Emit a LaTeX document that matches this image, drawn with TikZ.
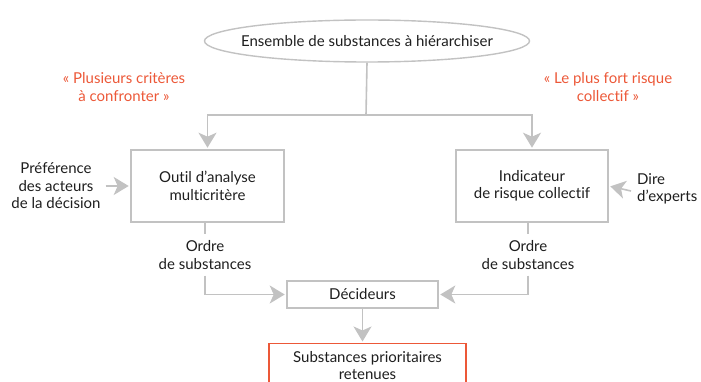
\documentclass[tikz,border=0pt]{standalone}
\usepackage{fontspec}
\setmainfont{Lato}[Ligatures=NoCommon]
\usetikzlibrary{shapes.geometric,arrows.meta}
\definecolor{lgray}{RGB}{194,194,194}
\definecolor{accent}{RGB}{236,88,56}
\definecolor{ink}{RGB}{30,30,30}
\begin{document}
\begin{tikzpicture}[x=1pt,y=-1pt,
  every node/.style={font=\fontsize{15}{17.5}\selectfont, text=ink},
  box/.style={draw=lgray, line width=1.6pt, align=center, inner sep=0pt},
  plain/.style={align=center, inner sep=0pt},
  redtxt/.style={align=center, inner sep=0pt, text=accent},
  conn/.style={draw=lgray, line width=1.6pt},
  arr/.style={conn, shorten >=1.5pt, -{Stealth[length=15pt,width=18pt,inset=4pt]}}]
\useasboundingbox (0,0) rectangle (701,382);
\node[ellipse, draw=lgray, line width=1.4pt, inner xsep=-11pt, inner ysep=0pt, minimum height=42pt] (ens) at (367,41) {Ensemble de substances à hiérarchiser};
\node[box, minimum width=153pt, minimum height=72pt] (outil) at (207.5,186) {Outil d’analyse\\multicritère};
\node[box, minimum width=152pt, minimum height=72pt] (indic) at (532,186) {Indicateur\\de risque collectif};
\node[redtxt] (lab1) at (124,87) {« Plusieurs critères\\à confronter »};
\node[redtxt] (lab2) at (608,87) {« Le plus fort risque\\collectif »};
\node[plain] (pref) at (56,186) {Préférence\\des acteurs\\de la décision};
\node[plain, align=left, anchor=west] (dire) at (637,189) {Dire\\d’experts};
\node[plain, inner ysep=6pt] (ord1) at (205,255) {Ordre\\de substances};
\node[plain, inner ysep=6pt] (ord2) at (528,255) {Ordre\\de substances};
\node[box, minimum width=151pt, minimum height=27pt] (dec) at (362.5,294.5) {Décideurs};
\node[draw=accent, line width=1.4pt, align=center, inner sep=0pt, minimum width=197pt, minimum height=44pt, anchor=north] (subs) at (367.5,343) {Substances prioritaires\\retenues};
\coordinate (j) at (366,115);
\coordinate (jl) at (outil.north |- j);
\coordinate (jr) at (indic.north |- j);
\draw[conn] (ens.south) -- (j);
\draw[arr] (j) -- (jl) -- (outil.north);
\draw[arr] (j) -- (jr) -- (indic.north);
\draw[arr] (pref.east) ++(5pt,0) coordinate (pe) (pe) -- (outil.west);
\draw[arr] (dire.west) ++(-6pt,-2pt) coordinate (de) (de) -- (indic.east);
\draw[conn] (outil.south -| ord1.north) -- (ord1.north);
\draw[conn] (indic.south -| ord2.north) -- (ord2.north);
\draw[arr] (ord1.south) |- (dec.west);
\draw[arr] (ord2.south) |- (dec.east);
\draw[arr] (dec.south) -- (subs.north -| dec.south);
\end{tikzpicture}
\end{document}
